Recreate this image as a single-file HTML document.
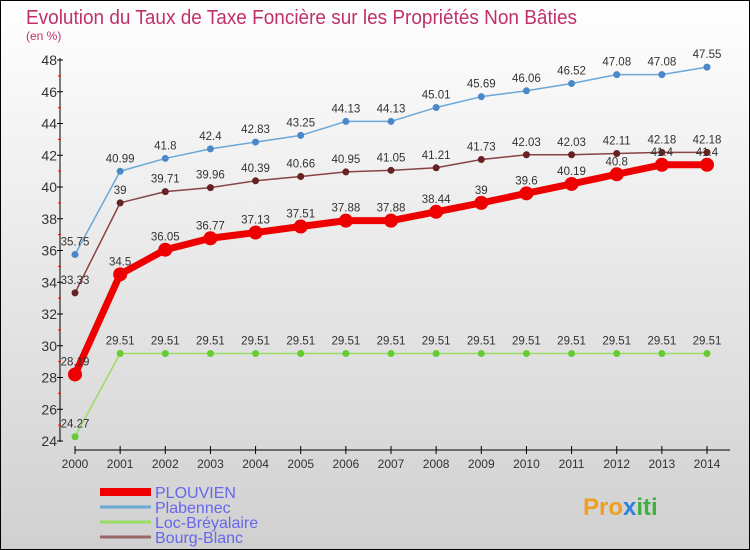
<!DOCTYPE html>
<html><head><meta charset="utf-8"><style>
body{margin:0;}
#wrap{width:750px;height:550px;position:relative;overflow:hidden;background:linear-gradient(#ffffff,#d0d0d0);font-family:"Liberation Sans",sans-serif;}
svg text{font-family:"Liberation Sans",sans-serif;}
</style></head><body>
<div id="wrap">
<svg id="c" width="750" height="550">
<rect x="0.5" y="0.5" width="749" height="549" fill="none" stroke="#000"/>
<text x="26" y="24" font-size="20" fill="#c0306a" textLength="551" lengthAdjust="spacingAndGlyphs">Evolution du Taux de Taxe Foncière sur les Propriétés Non Bâties</text>
<text x="26" y="40" font-size="12" fill="#c0306a">(en %)</text>
<text x="583" y="515" font-size="24" font-weight="bold" fill="#f0a020">Pro<tspan fill="#3080e0">x</tspan><tspan fill="#40b040">iti</tspan></text>
</svg>
</div>
<script>
const years=[2000,2001,2002,2003,2004,2005,2006,2007,2008,2009,2010,2011,2012,2013,2014];
const plouvien=[28.19,34.5,36.05,36.77,37.13,37.51,37.88,37.88,38.44,39,39.6,40.19,40.8,41.4,41.4];
const plabennec=[35.75,40.99,41.8,42.4,42.83,43.25,44.13,44.13,45.01,45.69,46.06,46.52,47.08,47.08,47.55];
const loc=[24.27,29.51,29.51,29.51,29.51,29.51,29.51,29.51,29.51,29.51,29.51,29.51,29.51,29.51,29.51];
const bourg=[33.33,39,39.71,39.96,40.39,40.66,40.95,41.05,41.21,41.73,42.03,42.03,42.11,42.18,42.18];
const yTicks=[24,26,28,30,32,34,36,38,40,42,44,46,48];
const NS='http://www.w3.org/2000/svg';
const svg=document.getElementById('c');
const X=i=>75+i*(707-75)/(years.length-1);
const Y=v=>441-(v-24)*(441-60)/24;
function mk(t,a,p){const e=document.createElementNS(NS,t);for(const k in a)e.setAttribute(k,a[k]);(p||svg).appendChild(e);return e;}
const ya=mk('line',{x1:60,y1:58,x2:60,y2:442,stroke:'#000'});


yTicks.forEach(v=>{
 const t=mk('line',{x1:57,x2:63,y1:Y(v),y2:Y(v),stroke:'#000'});
 
 
 if(v<48){
 const m=mk('line',{x1:58,x2:61,y1:Y(v+1),y2:Y(v+1),stroke:'#f00'});
 
 
 }
 const l=mk('text',{x:57,y:Y(v)+5,'font-size':14,'text-anchor':'end',fill:'#333'});
 l.textContent=v;
 
 
});
const xa=mk('line',{x1:75,y1:450,x2:730,y2:450,stroke:'#000'});


years.forEach((y,i)=>{
 const t=mk('line',{x1:X(i),x2:X(i),y1:446,y2:454,stroke:'#000'});
 
 
 const l=mk('text',{x:X(i),y:468,'font-size':12,'text-anchor':'middle',fill:'#333'});
 l.textContent=y;
 
 
});
function series(vals,color,dot,w,r,name){
 const g=mk('g',{});
 
 
 const pl=mk('polyline',{points:vals.map((v,i)=>X(i)+','+Y(v)).join(' '),fill:'none',stroke:color,'stroke-width':w,'stroke-linejoin':'round'},g);
 
 
 vals.forEach((v,i)=>{
  const c=mk('circle',{cx:X(i),cy:Y(v),r:r,fill:dot},g);
  
  
  const l=mk('text',{x:X(i),y:Y(v)-9,'font-size':11.5,'text-anchor':'middle',fill:'#333'},g);
  l.textContent=v;
  
  
 });
}
series(loc,'#99dd66','#66cc33',1.5,3.5,'loc-breyalaire');
series(plabennec,'#6aa8d8','#4a88c8',1.5,3.5,'plabennec');
series(bourg,'#884444','#662222',1.5,3.5,'bourg-blanc');
series(plouvien,'#ee0000','#ee0000',7,7,'plouvien');
const leg=[['PLOUVIEN','#ee0000',8],['Plabennec','#6aa8d8',3],['Loc-Bréyalaire','#99dd66',3],['Bourg-Blanc','#996666',3]];
leg.forEach((d,i)=>{
 const y=492+i*15;
 const l=mk('line',{x1:100,x2:151,y1:y,y2:y,stroke:d[1],'stroke-width':d[2]});
 
 
 const t=mk('text',{x:155,y:y+6,'font-size':16,fill:'#6666ee'});
 t.textContent=d[0];
 
 
});
</script>
</body></html>
